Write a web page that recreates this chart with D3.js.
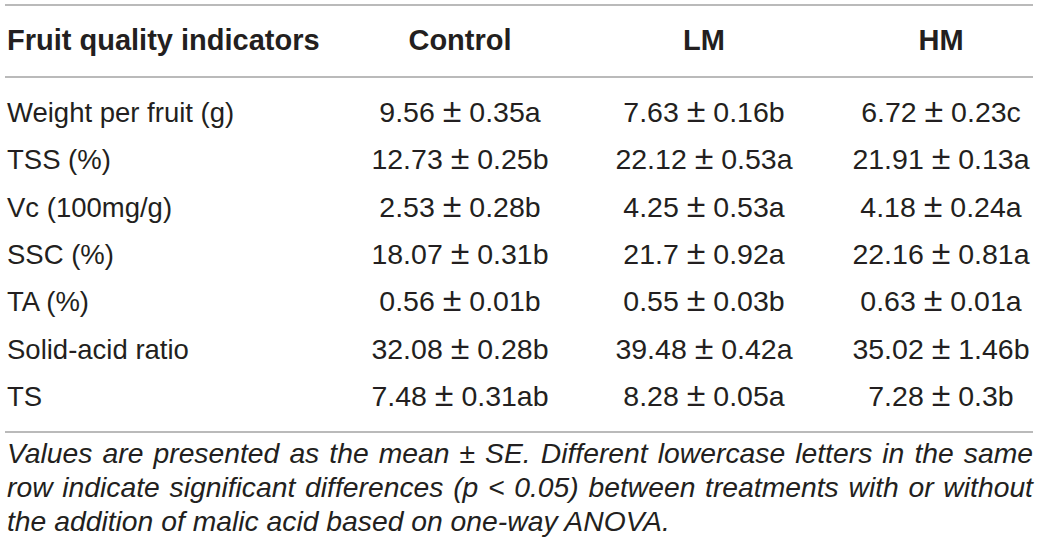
<!DOCTYPE html>
<html>
<head>
<meta charset="utf-8">
<script src="https://cdn.jsdelivr.net/npm/d3@7"></script>
<style>
  body { margin: 0; background: #ffffff; }
  text { font-family: "Liberation Sans", Arial, sans-serif; }
</style>
</head>
<body>
<div id="container"></div>
<script>
  // table content
  const headers = ['Fruit quality indicators', 'Control', 'LM', 'HM']
  const indicators = ['Weight per fruit (g)', 'TSS (%)', 'Vc (100mg/g)', 'SSC (%)', 'TA (%)', 'Solid-acid ratio', 'TS']
  // [mean, SE, letter]
  const control = [[9.56, 0.35, 'a'], [12.73, 0.25, 'b'], [2.53, 0.28, 'b'], [18.07, 0.31, 'b'], [0.56, 0.01, 'b'], [32.08, 0.28, 'b'], [7.48, 0.31, 'ab']]
  const lm = [[7.63, 0.16, 'b'], [22.12, 0.53, 'a'], [4.25, 0.53, 'a'], [21.7, 0.92, 'a'], [0.55, 0.03, 'b'], [39.48, 0.42, 'a'], [8.28, 0.05, 'a']]
  const hm = [[6.72, 0.23, 'c'], [21.91, 0.13, 'a'], [4.18, 0.24, 'a'], [22.16, 0.81, 'a'], [0.63, 0.01, 'a'], [35.02, 1.46, 'b'], [7.28, 0.3, 'b']]
  const footnote = [
    'Values are presented as the mean \u00b1 SE. Different lowercase letters in the same',
    'row indicate significant differences (p < 0.05) between treatments with or without',
    'the addition of malic acid based on one-way ANOVA.'
  ]

  const width = 1040
  const height = 555
  const left = 7
  const right = 1033
  const textColor = '#231f20'
  const ruleColor = '#a3a3a3'

  const svg = d3.select('#container')
    .append('svg')
    .attr('width', width)
    .attr('height', height)
    .style('background', '#ffffff')

  // column centres for the treatment columns
  const xCol = d3.scaleOrdinal()
    .domain(headers.slice(1))
    .range([460, 704, 941])

  // row baselines
  const yRow = d3.scalePoint()
    .domain(indicators)
    .range([122, 406])

  // horizontal rules
  svg.selectAll('line.rule')
    .data([5, 77, 432])
    .enter()
    .append('line')
    .attr('class', 'rule')
    .attr('x1', left - 2)
    .attr('x2', right)
    .attr('y1', (d) => d)
    .attr('y2', (d) => d)
    .attr('stroke', ruleColor)
    .attr('stroke-width', 1.5)

  // header row
  svg.selectAll('text.header')
    .data(headers)
    .enter()
    .append('text')
    .attr('class', 'header')
    .attr('x', (d, i) => i === 0 ? left : xCol(d))
    .attr('y', 50)
    .attr('text-anchor', (d, i) => i === 0 ? 'start' : 'middle')
    .attr('font-size', 29)
    .attr('font-weight', 'bold')
    .attr('fill', textColor)
    .text((d) => d)

  // indicator names
  svg.selectAll('text.label')
    .data(indicators)
    .enter()
    .append('text')
    .attr('class', 'label')
    .attr('x', left)
    .attr('y', (d) => yRow(d))
    .attr('font-size', 27.5)
    .attr('fill', textColor)
    .text((d) => d)

  // value cells, with a larger plus-minus sign
  const columns = [control, lm, hm]
  columns.forEach((col, ci) => {
    const cells = svg.selectAll(`text.val${ci}`)
      .data(col)
      .enter()
      .append('text')
      .attr('class', `val${ci}`)
      .attr('x', xCol(headers[ci + 1]))
      .attr('y', (d, i) => yRow(indicators[i]))
      .attr('text-anchor', 'middle')
      .attr('font-size', 28.5)
      .attr('fill', textColor)
    cells.append('tspan').text((d) => `${d[0]} `)
    cells.append('tspan').attr('font-size', 34).text('\u00b1')
    cells.append('tspan').text((d) => ` ${d[1]}${d[2]}`)
  })

  // footnote, justified except last line
  const noteY = [463, 497, 531]
  footnote.forEach((line, li) => {
    const t = svg.append('text')
      .attr('x', left)
      .attr('y', noteY[li])
      .attr('font-size', 28.3)
      .attr('font-style', 'italic')
      .attr('fill', textColor)
      .text(line)
    if (li < footnote.length - 1) {
      const words = line.split(' ')
      t.text(null)
      const spans = words.map((w) => t.append('tspan').text(w))
      const widths = spans.map((s) => s.node().getComputedTextLength())
      const gap = (right - left - d3.sum(widths)) / (words.length - 1)
      let x = left
      spans.forEach((s, i) => {
        s.attr('x', x)
        x += widths[i] + gap
      })
    }
  })
</script>
</body>
</html>
